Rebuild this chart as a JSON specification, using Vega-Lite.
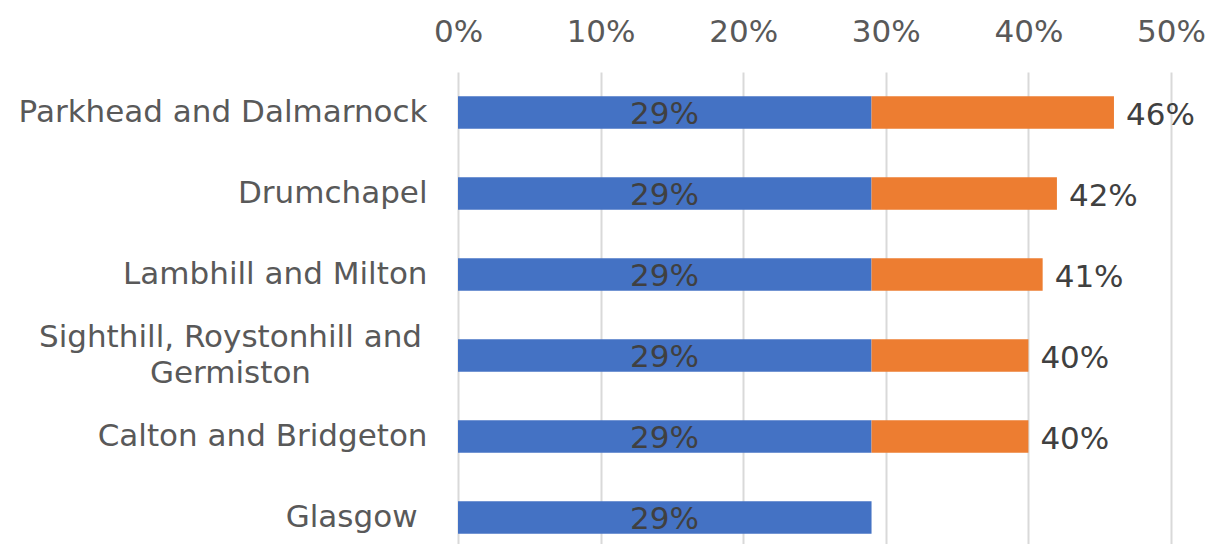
{
  "$schema": "https://vega.github.io/schema/vega-lite/v6.json",
  "width": 713,
  "height": 486,
  "autosize": {"type": "none"},
  "padding": {"left": 458, "top": 72, "right": 41, "bottom": 0},
  "background": "white",
  "config": {"view": {"stroke": null}, "font": "DejaVu Sans"},
  "data": {
    "values": [
      {"area": "Parkhead and Dalmarnock", "glasgow": 0.29, "rate": 0.46},
      {"area": "Drumchapel", "glasgow": 0.29, "rate": 0.42},
      {"area": "Lambhill and Milton", "glasgow": 0.29, "rate": 0.41},
      {"area": "Sighthill, Roystonhill and Germiston", "glasgow": 0.29, "rate": 0.40},
      {"area": "Calton and Bridgeton", "glasgow": 0.29, "rate": 0.40},
      {"area": "Glasgow", "glasgow": 0.29, "rate": null}
    ]
  },
  "encoding": {
    "y": {
      "field": "area",
      "type": "nominal",
      "sort": null,
      "scale": {"paddingInner": 0.6, "paddingOuter": 0.3},
      "axis": {
        "title": null,
        "domain": false,
        "ticks": false,
        "grid": false,
        "labelFontSize": 31,
        "labelColor": "#595959",
        "labelLimit": 0,
        "labelLineHeight": 36,
        "labelAlign": {"condition": {"test": "datum.value == 'Sighthill, Roystonhill and Germiston'", "value": "center"}, "value": "right"},
        "labelPadding": {"condition": [{"test": "datum.value == 'Sighthill, Roystonhill and Germiston'", "value": 228}, {"test": "datum.value == 'Glasgow'", "value": 41}], "value": 31},
        "labelOffset": {"condition": {"test": "datum.value == 'Sighthill, Roystonhill and Germiston'", "value": -18}, "value": 0},
        "labelExpr": "datum.label == 'Sighthill, Roystonhill and Germiston' ? ['Sighthill, Roystonhill and', 'Germiston'] : datum.label"
      }
    }
  },
  "layer": [
    {
      "mark": {"type": "bar", "color": "#4472C4"},
      "encoding": {
        "x": {
          "field": "glasgow",
          "type": "quantitative",
          "scale": {"domain": [0, 0.5], "nice": false},
          "axis": {
            "orient": "top",
            "title": null,
            "format": ".0%",
            "values": [0, 0.1, 0.2, 0.3, 0.4, 0.5],
            "grid": true,
            "gridColor": "#d9d9d9",
            "gridWidth": 2,
            "domain": false,
            "ticks": false,
            "labelFlush": false,
            "labelFontSize": 31,
            "labelColor": "#595959",
            "labelPadding": 24
          }
        }
      }
    },
    {
      "transform": [{"filter": "isValid(datum.rate)"}],
      "mark": {"type": "bar", "color": "#ED7D31"},
      "encoding": {
        "x": {"field": "glasgow", "type": "quantitative"},
        "x2": {"field": "rate"}
      }
    },
    {
      "mark": {"type": "text", "align": "center", "baseline": "middle", "dx": -207, "dy": 2, "fontSize": 31, "color": "#404040"},
      "encoding": {
        "x": {"field": "glasgow", "type": "quantitative"},
        "text": {"field": "glasgow", "type": "quantitative", "format": ".0%"}
      }
    },
    {
      "transform": [{"filter": "isValid(datum.rate)"}],
      "mark": {"type": "text", "align": "left", "baseline": "middle", "dx": 12, "dy": 3, "fontSize": 31, "color": "#404040"},
      "encoding": {
        "x": {"field": "rate", "type": "quantitative"},
        "text": {"field": "rate", "type": "quantitative", "format": ".0%"}
      }
    }
  ]
}
